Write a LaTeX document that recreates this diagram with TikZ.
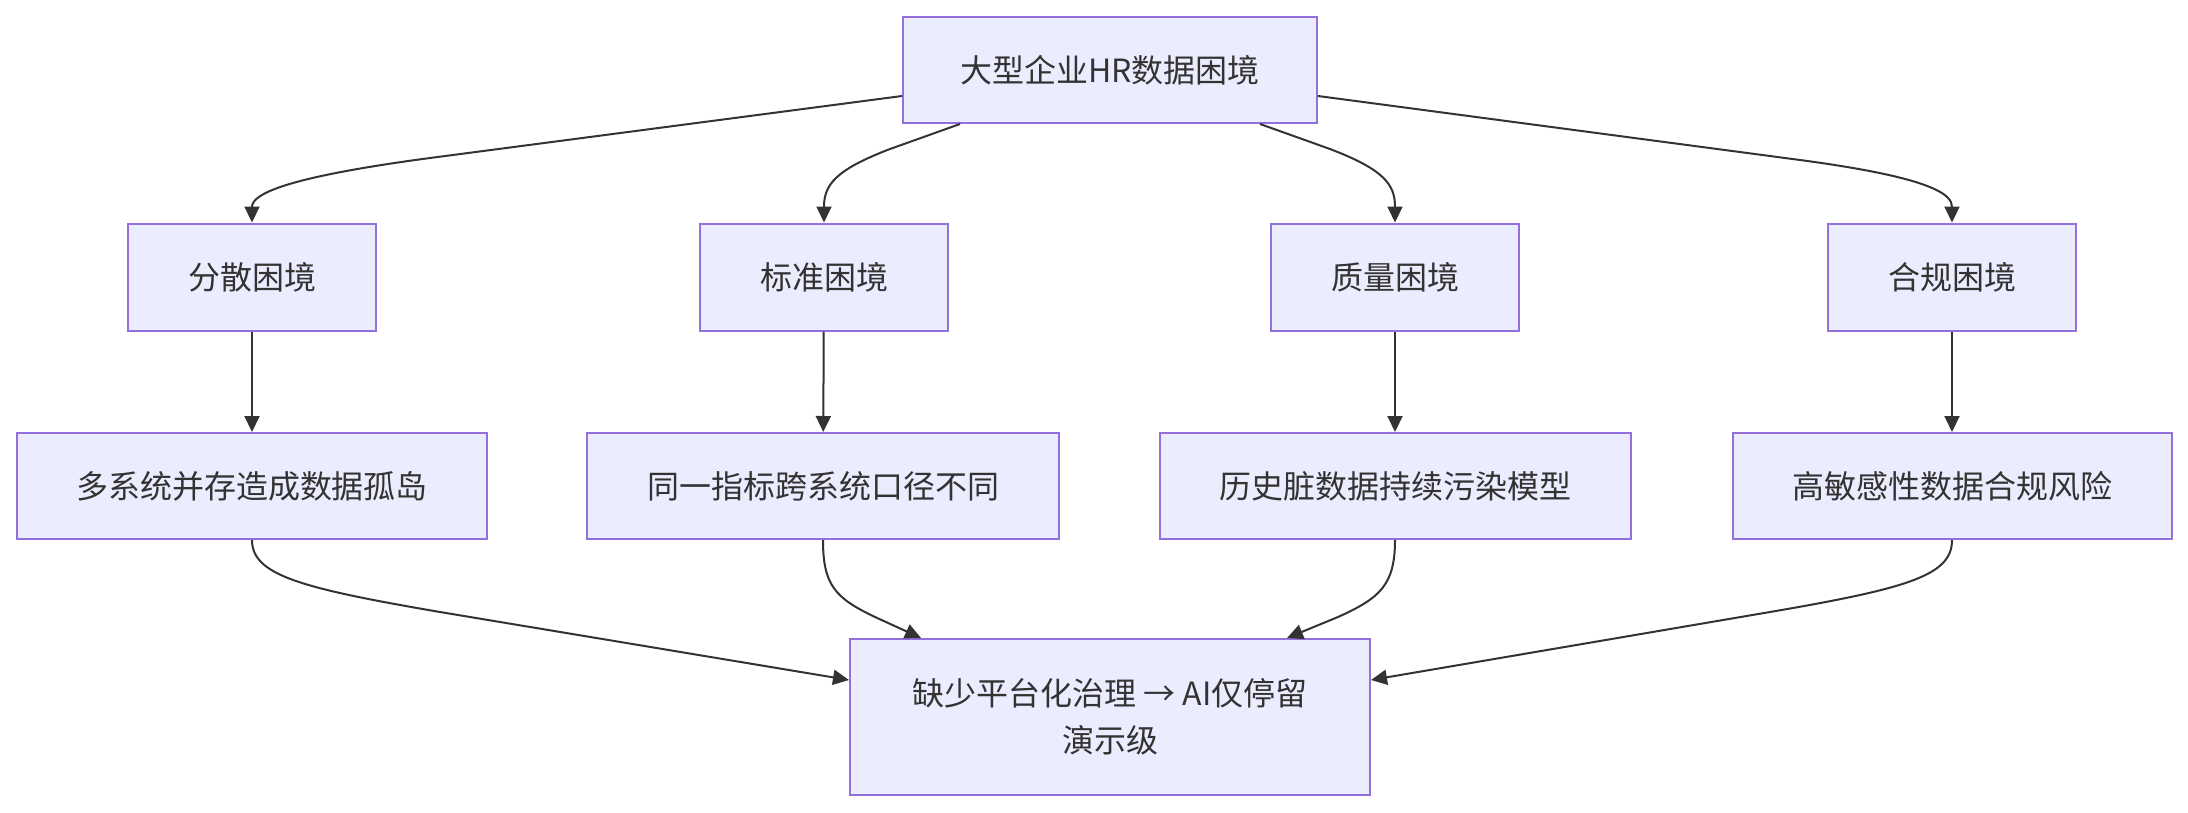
\documentclass[tikz,border=0pt]{standalone}
\usepackage{fontspec}
\setmainfont{Noto Sans CJK SC}
\usetikzlibrary{arrows.meta}
\definecolor{boxfill}{HTML}{ECECFF}
\definecolor{boxline}{HTML}{9370DB}
\definecolor{inkline}{HTML}{333333}
\tikzset{
  box/.style={draw=boxline, fill=boxfill, line width=2pt, inner sep=0pt, text=inkline, align=center, font=\fontsize{32pt}{47pt}\selectfont},
  rowtwo/.style={box, minimum width=248pt, minimum height=107pt},
  rowthree/.style={box, minimum height=106pt},
  link/.style={line width=2pt, draw=inkline, line join=round, -{Triangle[length=16pt,width=15pt]}},
}
\begin{document}
\begin{tikzpicture}[x=1pt, y=-1pt]
\useasboundingbox (0,0) rectangle (2188,812);
\node[box, minimum width=414pt, minimum height=106pt] (top) at (1110,70) {大型企业HR数据困境};
\node[rowtwo] (d1) at (252,277) {分散困境};
\node[rowtwo] (d2) at (824,277) {标准困境};
\node[rowtwo] (d3) at (1395,277) {质量困境};
\node[rowtwo] (d4) at (1952,277) {合规困境};
\node[rowthree, minimum width=470pt] (c1) at (252,486) {多系统并存造成数据孤岛};
\node[rowthree, minimum width=472pt] (c2) at (823,486) {同一指标跨系统口径不同};
\node[rowthree, minimum width=471pt] (c3) at (1395,486) {历史脏数据持续污染模型};
\node[rowthree, minimum width=439pt] (c4) at (1952,486) {高敏感性数据合规风险};
\node[box, minimum width=520pt, minimum height=156pt] (res) at (1110,717) {缺少平台化治理 → AI仅停留\\演示级};
\draw[link] ([yshift=-26pt]top.west) -- (430,158) .. controls (280,178) and (252,195) .. (d1.north);
\draw[link] ([xshift=-150pt]top.south) -- (890,149) .. controls (835,170) and (824,185) .. (d2.north);
\draw[link] ([xshift=150pt]top.south) -- (1330,149) .. controls (1385,170) and (1395,185) .. (d3.north);
\draw[link] ([yshift=-26pt]top.east) -- (1800,160) .. controls (1935,178) and (1952,195) .. (d4.north);
\draw[link] (d1) -- (c1);
\draw[link] (d2) -- (c2);
\draw[link] (d3) -- (c3);
\draw[link] (d4) -- (c4);
\draw[link] (c1.south) .. controls (252,575) and (300,588) .. (440,612) -- ([yshift=37pt]res.west);
\draw[link] (c2.south) .. controls (823,585) and (835,598) .. (875,617) -- ([xshift=-189pt]res.north);
\draw[link] (c3.south) .. controls (1395,585) and (1380,598) .. (1338,617) -- ([xshift=177pt]res.north);
\draw[link] (c4.south) .. controls (1952,575) and (1910,588) .. (1770,612) -- ([yshift=37pt]res.east);
\end{tikzpicture}
\end{document}
